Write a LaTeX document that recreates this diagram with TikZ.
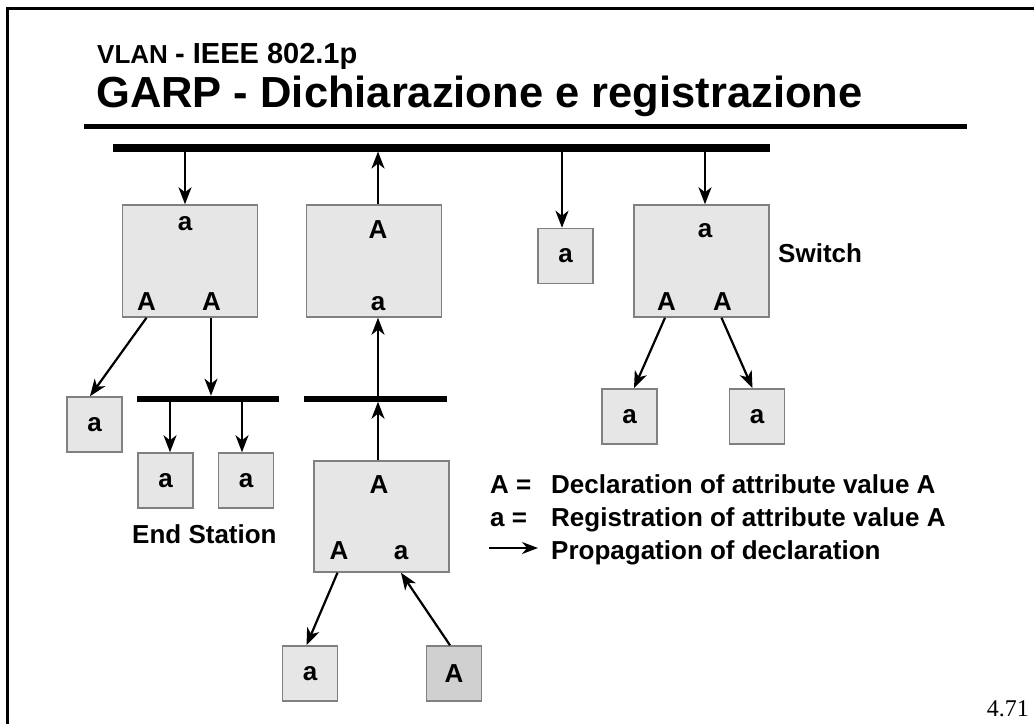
\documentclass[tikz,border=0pt]{standalone}
\usepackage{fontspec}
\setmainfont{Liberation Sans}
\newfontfamily\serifnum{Liberation Serif}
\usetikzlibrary{arrows.meta}
\definecolor{boxfill}{HTML}{E6E6E6}
\definecolor{boxdark}{HTML}{D0D0D0}
\definecolor{boxline}{HTML}{808080}
\tikzset{
  fs/.style={font=\fontsize{#1}{#1}\selectfont\bfseries},
  bigbox/.style={draw=boxline, line width=1.5pt, fill=boxfill, minimum width=135pt, minimum height=112pt, inner sep=0pt},
  station/.style={draw=boxline, line width=1.5pt, fill=boxfill, minimum width=55pt, minimum height=55pt, inner sep=0pt, fs=26},
  darkstation/.style={station, fill=boxdark},
  lbl/.style={inner sep=0pt, anchor=base, fs=26},
  txt/.style={inner sep=0pt, anchor=base west, fs=26},
  bus/.style={line width=#1, line cap=butt},
  prop/.style={line width=2.2pt, -{Stealth[length=17pt, width=13pt, inset=5pt]}},
  frameline/.style={line width=3pt, line cap=butt},
}
\begin{document}
\begin{tikzpicture}[x=1pt, y=-1pt]
\useasboundingbox (0,0) rectangle (1034,724);

% slide frame and heading
\draw[frameline] (7,724) -- (7,8) -- (1034,8);
\node[inner sep=0pt, anchor=base west] (head1) at (97,63)
  {\fontsize{26}{26}\selectfont\bfseries VLAN \fontsize{29}{29}\selectfont- IEEE 802.1p};
\node[inner sep=0pt, anchor=base west, fs=43.5] (head2) at (96,107) {GARP - Dichiarazione e registrazione};
\draw[line width=5pt] (84,126) coordinate (ul0) -- (967,126) coordinate (ul1);

% LAN segments
\coordinate (bus0w) at (113,147.5);
\coordinate (bus0e) at (770,147.5);
\draw[bus=8pt] (bus0w) -- (bus0e);
\coordinate (bus1w) at (137,398.7);
\coordinate (bus1e) at (279,398.7);
\draw[bus=6pt] (bus1w) -- (bus1e);
\coordinate (bus2w) at (304,398.7);
\coordinate (bus2e) at (447,398.7);
\draw[bus=6pt] (bus2w) -- (bus2e);

% switches
\node[bigbox] (sw1) at (190,261) {};
\node[bigbox] (sw2) at (374,261) {};
\node[bigbox] (sw3) at (701.5,261) {};
\node[bigbox, minimum height=111pt] (sw4) at (381.5,516.5) {};

\node[lbl] (sw1t) at (185,230) {a};
\node[lbl] (sw1l) at (146.5,310) {A};
\node[lbl] (sw1r) at (211.5,310) {A};
\node[lbl] (sw2t) at (378,238) {A};
\node[lbl] (sw2b) at (378,310) {a};
\node[lbl] (sw3t) at (705,237) {a};
\node[lbl] (sw3l) at (666.5,310) {A};
\node[lbl] (sw3r) at (722.5,310) {A};
\node[lbl] (sw4t) at (379,493) {A};
\node[lbl] (sw4l) at (339,559) {A};
\node[lbl] (sw4r) at (401,559) {a};

% end stations
\node[station] (s1) at (94.5,424.5) {a};
\node[station] (e1) at (165.5,480.5) {a};
\node[station] (e2) at (246,480.5) {a};
\node[station] (e3) at (565.5,256) {a};
\node[station] (r1) at (629.5,416.5) {a};
\node[station] (r2) at (757,416.5) {a};
\node[station] (b1) at (310,673.5) {a};
\node[darkstation] (b2) at (454,673.5) {A};

% taps on the segments
\coordinate (t0a) at (185,151.5);
\coordinate (t0b) at (378,151.5);
\coordinate (t0c) at (562,151.5);
\coordinate (t0d) at (705,151.5);
\coordinate (t1a) at (211,395.7);
\coordinate (t1b) at (170,401.7);
\coordinate (t1c) at (242,401.7);
\coordinate (t2a) at (378,395.7);
\coordinate (t2b) at (378,401.7);

% propagation of declarations
\draw[prop] (t0a) -- (t0a |- sw1.north);
\draw[prop] (t0b |- sw2.north) -- (t0b);
\draw[prop] (t0c) -- (t0c |- e3.north);
\draw[prop] (t0d) -- (t0d |- sw3.north);
\draw[prop] (sw1.south -| sw1l) -- ([xshift=-4.5pt]s1.north);
\draw[prop] (t1a |- sw1.south) -- (t1a);
\draw[prop] (t1b) -- (t1b |- e1.north);
\draw[prop] (t1c) -- (t1c |- e2.north);
\draw[prop] (t2a) -- (t2a |- sw2.south);
\draw[prop] (t2b |- sw4.north) -- (t2b);
\draw[prop] ([xshift=-1.5pt]sw4.south -| sw4l) -- ([xshift=-3.5pt]b1.north);
\draw[prop] ([xshift=-4pt]b2.north) -- (sw4.south -| sw4r);
\draw[prop] ([xshift=-1.5pt]sw3.south -| sw3l) -- ([xshift=4.5pt]r1.north);
\draw[prop] ([xshift=-1pt]sw3.south -| sw3r) -- ([xshift=-4.5pt]r2.north);

% captions
\node[txt] (endst) at (132,543) {End Station};
\node[txt] (swlab) at (778,262) {Switch};

% legend
\node[txt] (k1) at (490,493) {A =};
\node[txt] (v1) at (551,493) {Declaration of attribute value A};
\node[txt] (k2) at (490,526) {a =};
\node[txt] (v2) at (551,526) {Registration of attribute value A};
\coordinate (k3a) at (489,548);
\coordinate (k3b) at (538,548);
\draw[line width=1.8pt, -{Stealth[length=16pt, width=12pt, inset=5pt]}] (k3a) -- (k3b);
\node[txt] (v3) at (551,559) {Propagation of declaration};

% page number
\node[inner sep=0pt, anchor=base east] (pg) at (1029,716) {\serifnum\fontsize{24}{24}\selectfont 4.71};
\end{tikzpicture}
\end{document}
